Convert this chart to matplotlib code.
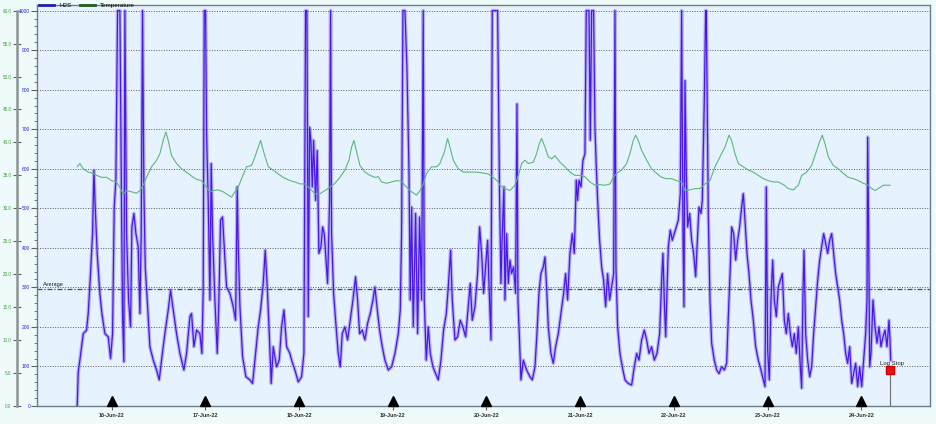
import numpy as np
import matplotlib.pyplot as plt
import matplotlib.transforms as mtransforms
from matplotlib.lines import Line2D
from matplotlib.ticker import MultipleLocator
plt.rcParams["font.family"] = ["Liberation Sans", "DejaVu Sans"]

"""
H2S logger trace (ppm) with temperature, 15-Jun-22 to 24-Jun-22.
time axis = hours since 16-Jun-22 00:00
"""

# H2S readings, ppm (1000 = top of sensor range)
h2s_hours = [
    -8.80, -8.55, -8.12, -7.26, -6.41, -5.98, -5.39, -4.87, -4.53, -4.19, -3.68, -3.00, -2.48, -1.71, -0.86, -0.26,
    0.25, 0.68, 1.10, 1.53, 2.13, 2.55, 2.81, 3.15, 3.41, 3.84, 4.35, 4.86, 5.20, 5.71, 6.23, 6.82,
    7.25, 7.59, 7.93, 8.27, 8.62, 9.13, 9.81, 10.67, 11.52, 12.20, 12.80, 13.65, 14.51, 15.11, 15.79, 16.64,
    17.50, 18.52, 19.20, 20.06, 20.48, 21.08, 21.77, 22.62, 23.13, 23.47, 23.73, 24.07, 24.33, 24.75, 25.18, 25.52,
    25.86, 26.46, 27.06, 27.49, 27.91, 28.42, 28.85, 29.45, 30.30, 31.16, 31.76, 32.18, 32.44, 32.87, 33.55, 34.40,
    35.43, 36.11, 36.79, 37.56, 38.16, 38.84, 39.35, 39.87, 40.38, 40.89, 41.40, 42.26, 42.94, 43.54, 44.14, 44.82,
    45.67, 46.10, 46.95, 47.81, 48.66, 49.26, 49.68, 50.03, 50.37, 50.71, 51.05, 51.39, 51.73, 52.25, 52.67, 53.10,
    53.61, 54.04, 54.47, 54.81, 55.32, 55.83, 56.09, 56.34, 56.86, 57.37, 58.05, 58.56, 59.08, 59.76, 60.44, 61.12,
    61.81, 62.49, 63.00, 63.52, 64.20, 64.88, 65.56, 66.25, 66.93, 67.44, 67.96, 68.64, 69.32, 70.00, 70.86, 71.71,
    72.57, 73.42, 73.93, 74.27, 74.62, 75.13, 75.64, 76.15, 76.49, 76.84, 77.26, 77.86, 78.37, 78.88, 79.40, 79.82,
    80.08, 80.59, 81.10, 81.62, 82.30, 82.98, 83.67, 84.35, 85.03, 85.72, 86.23, 86.83, 87.25, 87.94, 88.62, 89.30,
    89.98, 90.67, 91.35, 91.86, 92.37, 93.06, 93.74, 94.25, 94.77, 95.28, 95.79, 96.30, 96.73, 97.16, 97.50, 98.18,
    98.86, 99.38, 99.72, 100.06, 100.49, 100.74, 101.17, 101.60, 102.02, 102.45, 102.96, 103.47, 103.82, 104.07, 104.41, 104.84,
    105.44, 106.29, 107.15, 107.74, 108.43, 108.94, 109.45, 109.96, 110.56, 110.99, 111.41, 111.84, 112.52, 113.12, 113.72, 114.40,
    115.09, 115.77, 116.28, 116.79, 117.39, 117.99, 118.50, 119.01, 119.35, 119.70, 120.21, 120.72, 121.23, 121.57, 122.26, 122.60,
    122.94, 123.45, 123.79, 124.14, 124.48, 124.99, 125.50, 126.01, 126.53, 127.04, 127.55, 128.06, 128.58, 128.92, 129.17, 129.60,
    130.20, 130.80, 131.48, 132.33, 133.19, 133.87, 134.47, 135.07, 135.75, 136.43, 137.03, 137.63, 138.31, 138.99, 139.68, 140.36,
    140.87, 141.21, 141.55, 141.90, 142.24, 142.58, 143.09, 143.60, 144.12, 144.63, 145.14, 145.65, 145.99, 146.34, 146.59, 146.85,
    147.19, 147.53, 148.04, 148.56, 149.07, 149.58, 150.09, 150.43, 150.95, 151.29, 151.80, 152.14, 152.31, 152.82, 153.25, 153.68,
    154.36, 154.96, 155.56, 156.24, 156.92, 157.52, 157.95, 158.46, 158.80, 159.31, 159.83, 160.34, 160.85, 161.36, 161.79, 162.22,
    162.73, 163.24, 163.75, 164.35, 164.95, 165.63, 166.31, 166.91, 167.34, 167.68, 168.02, 168.45, 168.88, 169.30, 169.73, 170.24,
    170.75, 171.27, 171.78, 172.29, 172.80, 173.32, 173.83, 174.34, 174.85, 175.36, 175.88, 176.39, 176.73, 177.07, 177.33, 177.76,
    178.27, 178.78, 179.29, 179.80, 180.32, 180.83, 181.34, 181.85, 182.37, 182.88, 183.39, 183.90, 184.42, 184.93, 185.44, 185.95,
    186.46, 186.98, 187.49, 188.00, 188.51, 189.03, 189.54, 190.05, 190.56, 191.07, 191.59, 192.10, 192.61, 193.12, 193.47, 193.64,
    193.89, 194.15, 194.49, 195.00, 195.52, 196.03, 196.54, 197.05, 197.56, 198.08, 198.59, 199.10, 199.36, 199.53,
]
h2s_ppm = [
    0, 85, 116, 183, 192, 234, 335, 436, 596, 503, 385, 285, 234, 183, 175, 120,
    183, 503, 571, 1000, 1000, 503, 234, 112, 1000, 436, 268, 200, 453, 487, 436, 402,
    234, 436, 1000, 554, 352, 268, 150, 116, 91, 66, 116, 183, 243, 293, 243, 183,
    133, 91, 133, 226, 234, 150, 192, 183, 133, 293, 1000, 1000, 689, 520, 268, 613,
    436, 268, 133, 268, 470, 478, 402, 301, 285, 251, 217, 554, 402, 251, 125, 74,
    66, 57, 125, 200, 243, 310, 394, 301, 183, 57, 150, 99, 116, 200, 243, 150,
    133, 116, 91, 61, 74, 133, 1000, 1000, 226, 705, 672, 554, 672, 520, 646, 386,
    402, 453, 436, 386, 310, 520, 1000, 436, 285, 217, 133, 99, 183, 200, 167, 217,
    268, 327, 268, 183, 192, 167, 209, 234, 268, 301, 251, 192, 150, 116, 91, 99,
    133, 183, 243, 436, 1000, 1000, 857, 604, 268, 503, 200, 487, 183, 478, 268, 1000,
    268, 116, 200, 133, 99, 82, 66, 116, 192, 234, 301, 394, 268, 167, 175, 217,
    200, 175, 251, 310, 217, 251, 335, 453, 386, 285, 352, 419, 285, 167, 1000, 1000,
    1000, 520, 310, 436, 554, 268, 436, 310, 369, 335, 352, 285, 764, 268, 183, 66,
    116, 91, 74, 66, 99, 183, 285, 335, 352, 377, 301, 200, 133, 108, 150, 183,
    234, 285, 335, 268, 386, 436, 386, 571, 520, 571, 554, 621, 638, 1000, 1000, 672,
    1000, 1000, 705, 604, 520, 419, 352, 318, 251, 335, 268, 301, 335, 1000, 352, 200,
    133, 99, 66, 57, 53, 99, 133, 116, 167, 192, 167, 133, 150, 116, 133, 183,
    318, 386, 268, 175, 285, 402, 445, 419, 436, 453, 470, 537, 1000, 436, 251, 823,
    588, 453, 487, 419, 386, 327, 436, 503, 487, 520, 773, 1000, 1000, 487, 268, 159,
    116, 91, 82, 99, 91, 108, 226, 352, 453, 436, 369, 419, 453, 503, 537, 470,
    386, 335, 268, 217, 150, 116, 91, 66, 49, 554, 141, 66, 268, 369, 268, 226,
    301, 318, 335, 217, 183, 234, 183, 150, 183, 133, 200, 99, 45, 285, 394, 183,
    116, 74, 99, 183, 251, 318, 369, 402, 436, 411, 386, 419, 436, 386, 335, 301,
    268, 217, 183, 133, 108, 150, 57, 82, 108, 49, 99, 49, 116, 183, 268, 680,
    436, 99, 133, 268, 200, 159, 200, 150, 175, 192, 150, 217, 167, 116,
]

# temperature, deg C
temp_hours = [
    -8.80, -8.12, -7.26, -5.98, -4.70, -3.85, -2.57, -1.29, -0.01, 1.27, 2.13, 2.98, 3.84, 5.12, 6.40, 7.25,
    8.10, 8.96, 10.24, 11.52, 12.37, 13.23, 13.91, 14.51, 15.36, 16.64, 17.92, 19.63, 20.91, 21.77, 23.05, 24.33,
    25.18, 26.03, 27.32, 28.60, 29.88, 30.73, 31.58, 32.44, 33.29, 34.57, 35.85, 36.71, 37.56, 38.16, 38.84, 40.12,
    41.40, 42.68, 43.96, 45.67, 46.95, 48.23, 49.51, 50.79, 52.07, 53.36, 54.64, 55.92, 57.20, 58.48, 59.76, 60.78,
    61.47, 62.06, 62.66, 63.60, 64.88, 66.16, 67.44, 68.30, 69.15, 70.43, 71.71, 72.99, 74.27, 75.55, 76.84, 78.12,
    78.97, 79.82, 80.68, 81.96, 83.24, 84.09, 85.20, 86.06, 86.65, 87.51, 88.79, 90.07, 91.35, 93.06, 94.77, 96.47,
    97.75, 99.03, 99.46, 100.74, 102.02, 103.30, 104.33, 105.01, 105.86, 106.72, 108.00, 108.85, 109.54, 110.13, 110.99, 111.84,
    112.70, 113.55, 114.83, 116.11, 117.39, 118.67, 119.95, 121.23, 122.51, 123.79, 125.07, 126.36, 127.64, 128.49, 129.34, 130.62,
    131.91, 132.76, 133.61, 134.21, 134.89, 135.75, 137.03, 138.31, 139.59, 140.87, 142.15, 143.43, 144.71, 146.00, 146.85, 148.13,
    149.41, 150.69, 151.97, 153.25, 154.53, 155.81, 157.09, 158.12, 158.80, 159.65, 160.51, 161.79, 163.07, 164.35, 165.63, 166.91,
    168.19, 169.47, 170.75, 172.04, 173.32, 174.60, 175.88, 176.73, 178.01, 179.29, 180.57, 181.43, 182.02, 182.71, 183.56, 184.84,
    186.12, 187.40, 188.68, 189.97, 191.25, 192.53, 193.81, 194.66, 195.52, 196.37, 197.65, 199.36,
]
temp_c = [
    36.3, 36.8, 36.0, 35.5, 35.3, 35.0, 34.7, 34.7, 34.2, 34.0, 33.2, 32.2, 32.7, 32.5, 32.3, 32.7,
    33.5, 34.7, 36.3, 37.3, 38.3, 40.3, 41.6, 40.3, 38.0, 36.8, 36.0, 35.3, 34.7, 34.4, 34.2, 33.2,
    32.5, 32.7, 32.8, 32.5, 32.0, 31.7, 32.5, 33.2, 34.5, 36.3, 36.5, 37.8, 39.3, 40.3, 38.8, 36.3,
    35.8, 35.2, 34.7, 34.2, 34.0, 33.7, 33.7, 33.0, 32.2, 32.2, 32.7, 33.2, 33.8, 34.7, 35.8, 37.3,
    39.3, 40.3, 38.8, 36.5, 35.5, 35.0, 34.7, 34.8, 34.0, 33.8, 34.0, 34.2, 34.1, 33.2, 32.5, 32.0,
    32.7, 33.7, 35.3, 36.3, 36.3, 36.8, 38.5, 40.6, 39.3, 37.3, 36.0, 35.5, 35.5, 35.5, 35.4, 35.2,
    34.7, 34.0, 33.5, 33.0, 32.7, 33.5, 35.3, 36.8, 37.3, 36.8, 37.0, 38.3, 39.8, 40.6, 39.3, 37.8,
    37.5, 38.0, 37.0, 36.3, 35.5, 35.0, 35.0, 34.8, 34.0, 33.5, 33.6, 33.5, 33.7, 34.7, 35.3, 35.8,
    36.8, 38.3, 40.3, 41.1, 40.3, 38.8, 37.3, 36.0, 35.3, 34.7, 34.5, 34.5, 34.2, 34.0, 32.7, 32.8,
    33.0, 33.0, 33.7, 34.2, 36.3, 37.8, 39.3, 41.1, 40.3, 38.3, 36.8, 36.3, 35.8, 35.5, 35.0, 34.5,
    34.2, 34.0, 34.0, 33.6, 33.0, 32.8, 33.5, 35.0, 35.5, 36.5, 38.8, 40.3, 41.1, 39.8, 37.8, 36.5,
    36.0, 35.3, 34.7, 34.5, 34.2, 33.8, 33.5, 33.0, 32.7, 33.0, 33.5, 33.5,
]

day_hours = [0, 24, 48, 72, 96, 120, 144, 168, 192]
day_labels = ['16-Jun-22', '17-Jun-22', '18-Jun-22', '19-Jun-22', '20-Jun-22',
              '21-Jun-22', '22-Jun-22', '23-Jun-22', '24-Jun-22']
h2s_average = 297
log_stop_hour = 199.4
log_stop_ppm = 90

fig = plt.figure(figsize=(9.36, 4.24), dpi=100, facecolor='#EFFBFB')
ax = fig.add_axes([37/936, 18/424, 893/936, 401.3/424])
ax.set_facecolor('#E6F2FD')
ax.set_xlim(-19.1, 209.6)
ax.set_ylim(0, 1015)

# dotted grid every 100 ppm
for v in range(100, 1001, 100):
    ax.axhline(v, color='#5A5A5A', ls=(0, (1, 1.6)), lw=0.7, zorder=1)

ax.axhline(h2s_average, color='#4A4A4A', ls=(0, (4, 1.5, 1, 1.5)), lw=0.9, zorder=1)
ax.text(-17.6, h2s_average + 4, 'Average', fontsize=4.1, color='#202020', va='bottom')

ax.plot(h2s_hours, h2s_ppm, color='#8C80DC', lw=2.6, alpha=0.55, zorder=2)
ax.plot(h2s_hours, h2s_ppm, color='#4A16F0', lw=0.9, zorder=3)

# H2S axis
ax.set_yticks(range(0, 1001, 100))
ax.set_yticklabels([str(v) for v in range(0, 1001, 100)])
ax.yaxis.set_minor_locator(MultipleLocator(20))
ax.tick_params(axis='y', which='major', labelsize=3.5, labelcolor='#2424D8', length=4,
               width=0.8, color='#606060', pad=1)
ax.tick_params(axis='y', which='minor', length=2, width=0.6, color='#606060')

ax.set_xticks(day_hours)
ax.set_xticklabels(day_labels, fontsize=4, fontweight='bold', color='#303030')
ax.tick_params(axis='x', length=3, width=0.8, color='#606060', pad=2)
for s in ax.spines.values():
    s.set_color('#6E7E88')
    s.set_linewidth(1.0)

# day markers
trans = mtransforms.blended_transform_factory(ax.transData, ax.transAxes)
ax.plot(day_hours, [0.0118] * len(day_hours), ls='none', marker='^', ms=6.7,
        color='black', transform=trans, clip_on=False, zorder=5)

# log stop
ax.plot([log_stop_hour, log_stop_hour], [0, log_stop_ppm], color='#707070', lw=0.8, zorder=4)
ax.plot(log_stop_hour, log_stop_ppm, marker='s', ms=6.2, color='#EE1111', mec='#CC0000', zorder=6)
ax.text(log_stop_hour + 0.5, log_stop_ppm + 10, 'Log Stop', fontsize=4.3, color='#202020',
        ha='center', va='bottom', zorder=6)

# temperature on its own axis, outside the H2S axis
ax2 = ax.twinx()
ax2.set_ylim(0, 60.9)
ax2.plot(temp_hours, temp_c, color='#5DB87A', lw=0.8)
ax2.yaxis.set_ticks_position('left')
ax2.spines['left'].set_position(('outward', 14.4))
ax2.spines['left'].set_bounds(0, 60)
ax2.spines['left'].set_color('#8A9494')
ax2.spines['left'].set_linewidth(1.8)
for k in ['right', 'top', 'bottom']:
    ax2.spines[k].set_visible(False)
ax2.set_yticks(np.arange(0, 61, 5))
ax2.set_yticklabels(['%.1f' % v for v in np.arange(0, 61, 5)])
ax2.tick_params(axis='y', direction='inout', length=6, width=0.8, color='#606060',
                labelsize=3.3, labelcolor='#3C9E3C', pad=1)

handles = [Line2D([], [], color='#2A1CA8', lw=2), Line2D([], [], color='#1E5E1E', lw=2)]
ax2.legend(handles, ['H2S', 'Temperature'], loc='upper left', bbox_to_anchor=(0.002, 1.006),
           ncol=2, frameon=False, fontsize=4.5, handlelength=2.4, handletextpad=0.8,
           columnspacing=1.4, borderpad=0.1, borderaxespad=0)

fig.savefig('out.png', dpi=100, facecolor=fig.get_facecolor())
